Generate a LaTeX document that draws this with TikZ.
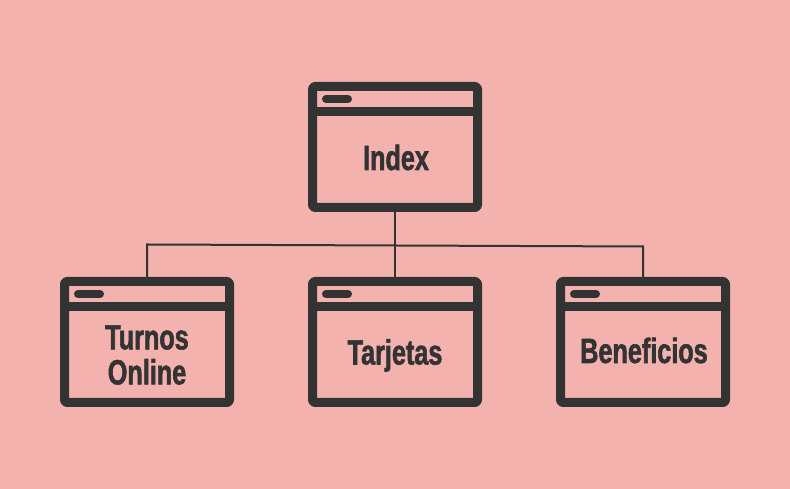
\documentclass[tikz,border=0pt]{standalone}
\usepackage{fontspec}
\setmainfont[FakeStretch=0.72, BoldFeatures={FakeBold=1.6}]{Liberation Sans}
\definecolor{bgpink}{HTML}{F4B2AF}
\definecolor{ink}{HTML}{333333}

% title bar separator and pill of a browser-window box
\newcommand\windowchrome[1]{%
  \draw[ink, line width=9pt] ([yshift=-30pt]#1.north west) -- ([yshift=-30pt]#1.north east);
  \draw[ink, line width=8pt, line cap=round] ([shift={(18pt,-17pt)}]#1.north west) -- ([shift={(40pt,-17pt)}]#1.north west);
}

\begin{document}
\begin{tikzpicture}[x=1pt,y=1pt,
  window/.style={draw=ink, line width=9pt, rounded corners=2.5pt, line join=round,
    minimum width=165pt, minimum height=121pt, inner sep=0pt},
  pagelabel/.style={text=ink, font=\bfseries\fontsize{35}{35}\selectfont, align=center, inner sep=0pt},
  link/.style={draw=ink, line width=2pt}]
\fill[bgpink] (0,0) rectangle (790,489);
\useasboundingbox (0,0) rectangle (790,489);

% connectors
\coordinate (jl) at (147,244.5);
\coordinate (jr) at (643,242.5);
\node[window] (index) at (395,342) {};
\node[window] (turnos) at (147,147) {};
\node[window] (tarjetas) at (395,147) {};
\node[window] (beneficios) at (643,147) {};

\draw[link] (index.south) -- (tarjetas.north);
\draw[link] (turnos.north) -- (jl) -- (jr) -- (beneficios.north);

\windowchrome{index}
\windowchrome{turnos}
\windowchrome{tarjetas}
\windowchrome{beneficios}

\node[pagelabel, anchor=base] (tIndex) at (396,319) {Index};
\node[pagelabel, anchor=center] (tTurnos) at (147,134) {Turnos\\Online};
\node[pagelabel, anchor=base] (tTarjetas) at (395,124.5) {Tarjetas};
\node[pagelabel, anchor=base] (tBeneficios) at (644,126) {Beneficios};
\end{tikzpicture}
\end{document}
